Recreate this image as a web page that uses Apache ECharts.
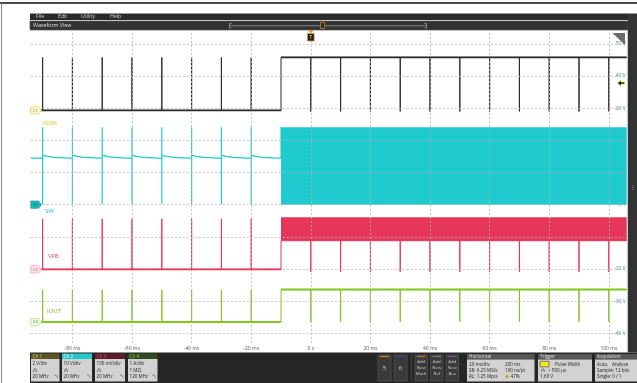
<!DOCTYPE html>
<html><head><meta charset="utf-8">
<script src="https://cdn.jsdelivr.net/npm/echarts@6/dist/echarts.min.js"></script>
<style>html,body{margin:0;padding:0;background:#fff}#c{width:637px;height:383px}</style>
</head><body><div id="c"></div>
<script>
// ---------------- data (read from the scope capture) ----------------
const timeMin = -94, timeMax = 106;                 // ms, 200 ms record, 47 % pre-trigger
const voltMin = -43, voltMax = 54;                  // V, right-hand scale, 10 V/div
const timeTicks = [-80, -60, -40, -20, 0, 20, 40, 60, 80, 100];
const voltTicks = [-40, -30, -20, -10, 0, 10, 20, 30, 40, 50];
const pulsesBefore = [-90, -80, -70, -60, -50, -40, -30, -20];
const pulsesAfter = [0, 10, 20, 30, 40, 50, 60, 70, 80, 90, 100];
const stepTime = -10;
// C1 / VDIM (black)
const c1Low = 29.3, c1High = 45.8, c1Dip = 29.0;
// C2 / SW (cyan)
const swIdle = 14.5, swPeak = 24.1, swFloor = 0.2;
const swDecay = [[0, 15.4], [1.5, 15.0], [4, 14.7], [9, 14.5]];
const swBandLow = 0, swBandHigh = 24.1;
// C3 / VFB (red)
const vfbIdle = -20.1, vfbPeak = -4.4, vfbBandLow = -11.2, vfbBandHigh = -3.9, vfbDip = -20.9;
// C4 / IOUT (green)
const ioutIdle = -36.5, ioutPeak = -26.5, ioutOn = -26.4, ioutDip = -36.4;
const trigLevel = 37.8;
const channelOffsets = [c1Low, 0, vfbIdle, ioutIdle];

// ---------------- build traces ----------------
function buildC1() {
  const d = [[timeMin, c1Low]];
  pulsesBefore.forEach(t => d.push([t, c1Low], [t, c1High], [t, c1Low]));
  d.push([stepTime, c1Low], [stepTime, c1High]);
  pulsesAfter.forEach(t => d.push([t, c1High], [t, c1Dip], [t, c1High]));
  d.push([timeMax, c1High]);
  return d;
}
function buildSW() {
  const d = [[timeMin, swIdle]];
  pulsesBefore.forEach(t => {
    d.push([t, swIdle], [t, swPeak], [t, swFloor]);
    swDecay.forEach(p => d.push([t + p[0], p[1]]));
  });
  d.push([stepTime, swIdle], [stepTime, swBandHigh]);
  return d;
}
function buildVFB() {
  const d = [[timeMin, vfbIdle]];
  pulsesBefore.forEach(t => d.push([t, vfbIdle], [t, vfbPeak], [t, vfbIdle]));
  d.push([stepTime, vfbIdle], [stepTime, vfbBandLow]);
  pulsesAfter.forEach(t => d.push([t, vfbBandLow], [t, vfbDip], [t, vfbBandLow]));
  d.push([timeMax, vfbBandLow]);
  return d;
}
function buildIOUT() {
  const d = [[timeMin, ioutIdle]];
  pulsesBefore.forEach(t => d.push([t, ioutIdle], [t, ioutPeak], [t, ioutIdle]));
  d.push([stepTime, ioutIdle], [stepTime, ioutOn]);
  pulsesAfter.forEach(t => d.push([t, ioutOn], [t, ioutDip], [t, ioutOn]));
  d.push([timeMax, ioutOn]);
  return d;
}
// heavier idle / on levels (horizontal parts only)
function levels(before, after) {
  return [[timeMin, before], [stepTime, before], [stepTime, '-'], [stepTime, after], [timeMax, after]];
}

const COL = { c1: '#2a2a2a', c2: '#1fcbcf', c3: '#e6375a', c4: '#7fc61f' };
const FONT = '"Open Sans", "Noto Sans", sans-serif';

function trace(name, data, color, w, z) {
  return { name, type: 'line', data, symbol: 'none', showSymbol: false, silent: true, connectNulls: false,
    lineStyle: { color, width: w }, z: z || 3, animation: false };
}
// switching envelope drawn as a filled band between two levels, through the axis scales
function band(name, low, high, color) {
  return {
    name, type: 'custom', silent: true, z: 3, animation: false,
    data: [[stepTime, timeMax, low, high]],
    encode: { x: [0, 1], y: [2, 3] },
    renderItem: (params, api) => {
      const p0 = api.coord([api.value(0), api.value(3)]);
      const p1 = api.coord([api.value(1), api.value(2)]);
      return { type: 'rect', shape: { x: p0[0], y: p0[1], width: p1[0] - p0[0], height: p1[1] - p0[1] },
        style: { fill: color } };
    }
  };
}

const gridSeries = {
  type: 'line', data: [[timeMin, voltMin]], symbol: 'none', lineStyle: { opacity: 0 }, silent: true, z: 1,
  markLine: {
    silent: true, symbol: ['none', 'none'], label: { show: false }, animation: false,
    lineStyle: { type: [2, 2], color: '#b5b5b5', width: 0.8 },
    data: timeTicks.map(t => ({ xAxis: t })).concat(voltTicks.map(v => ({ yAxis: v })))
  }
};

const option = {
  animation: false,
  backgroundColor: '#ffffff',
  grid: { left: 30.7, right: 10.3, top: 31, bottom: 40, containLabel: false },
  xAxis: {
    type: 'value', min: timeMin, max: timeMax,
    axisLine: { show: false }, axisTick: { show: false }, splitLine: { show: false },
    axisLabel: { customValues: timeTicks, formatter: v => v === 0 ? '0 s' : v + ' ms',
      fontSize: 5, color: '#555', margin: 3, fontFamily: FONT, showMinLabel: true, showMaxLabel: true }
  },
  yAxis: {
    type: 'value', position: 'right', min: voltMin, max: voltMax,
    axisLine: { show: false }, axisTick: { show: false }, splitLine: { show: false },
    axisLabel: { customValues: voltTicks, inside: true, formatter: v => v + ' V',
      fontSize: 5, color: '#3f8d9a', margin: 1, fontFamily: FONT }
  },
  series: [
    gridSeries,
    band('SW band', swBandLow, swBandHigh, COL.c2),
    band('VFB band', vfbBandLow, vfbBandHigh, COL.c3),
    trace('C1', buildC1(), COL.c1, 1, 4),
    trace('C1 level', levels(c1Low, c1High), COL.c1, 1.8, 5),
    trace('SW', buildSW(), COL.c2, 1.2, 4),
    trace('VFB', buildVFB(), COL.c3, 1, 4),
    trace('VFB level', [[timeMin, vfbIdle], [stepTime, vfbIdle]], COL.c3, 1.8, 5),
    trace('IOUT', buildIOUT(), COL.c4, 1, 4),
    trace('IOUT level', levels(ioutIdle, ioutOn), COL.c4, 2, 5)
  ]
};

const chart = echarts.init(document.getElementById('c'), null, { renderer: 'canvas' });
chart.setOption(option);

// ---------------- scope chrome ----------------
const G = [];
function rect(x, y, w, h, fill, stroke, z) {
  G.push({ type: 'rect', shape: { x, y, width: w, height: h }, silent: true, z: z || 10,
    style: { fill, stroke: stroke || null, lineWidth: stroke ? 0.7 : 0 } });
}
function text(x, y, s, fill, size, align, weight, z) {
  G.push({ type: 'text', x, y, silent: true, z: z || 20,
    style: { text: s, fill, font: (weight || 'normal') + ' ' + (size || 5) + 'px ' + FONT,
      textAlign: align || 'left', textVerticalAlign: 'middle', align: align || 'left', verticalAlign: 'middle' } });
}
function line(x1, y1, x2, y2, stroke, w, z) {
  G.push({ type: 'line', shape: { x1, y1, x2, y2 }, silent: true, z: z || 15, style: { stroke, lineWidth: w || 1 } });
}
function poly(points, fill, stroke, z) {
  G.push({ type: 'polygon', shape: { points }, silent: true, z: z || 15, style: { fill, stroke: stroke || null, lineWidth: 0.7 } });
}
function pline(points, stroke, w, z) {
  G.push({ type: 'polyline', shape: { points }, silent: true, z: z || 21, style: { stroke, lineWidth: w || 0.7, fill: null } });
}

// frame
line(0, 3, 637, 3, '#111', 1.6);
line(1.5, 3, 1.5, 383, '#888', 1);
// menu bar
rect(30, 13.5, 598, 6.5, '#2b2b2b');
text(36, 16.8, 'File', '#cfcfcf', 5.2);
text(58, 16.8, 'Edit', '#cfcfcf', 5.2);
text(81, 16.8, 'Utility', '#cfcfcf', 5.2);
text(110, 16.8, 'Help', '#cfcfcf', 5.2);
// waveform view bar
rect(30, 21, 598, 9, '#333333', '#555');
text(33, 25.6, 'Waveform View', '#e0e0e0', 5.3);
line(229, 25.8, 427, 25.8, '#9a9a9a', 0.8);
line(229.5, 23.5, 229.5, 28, '#9a9a9a', 0.8);
line(229.5, 23.5, 231.5, 23.5, '#9a9a9a', 0.8);
line(229.5, 28, 231.5, 28, '#9a9a9a', 0.8);
line(426.5, 23.5, 426.5, 28, '#9a9a9a', 0.8);
line(424.5, 23.5, 426.5, 23.5, '#9a9a9a', 0.8);
line(424.5, 28, 426.5, 28, '#9a9a9a', 0.8);
rect(320.6, 22.5, 4, 6, '#2a2a2a', '#d88a2a', 16);
// right strip
rect(628, 13.5, 9, 339, '#333333');
line(627.5, 30, 627.5, 352, '#bdbdbd', 0.8);
text(632.5, 187, '⋮', '#aaa', 6, 'center');
// corner icon
poly([[612.5, 33], [625, 33], [625, 45]], '#6a6a6a', null, 16);
// trigger T marker at t = 0
const x0 = chart.convertToPixel({ xAxisIndex: 0 }, 0);
poly([[x0 - 3, 30.5], [x0 + 3, 30.5], [x0, 33.3]], '#e8922a', null, 17);
rect(x0 - 3.3, 33.5, 6.6, 7.5, '#1e1e1e', '#e8922a', 17);
text(x0, 37.4, 'T', '#f0a040', 5, 'center', 'bold', 18);
// trigger level arrow on right
const yT = chart.convertToPixel({ yAxisIndex: 0 }, trigLevel);
poly([[617.5, yT], [621, yT - 2.8], [621, yT - 1], [624.5, yT - 1], [624.5, yT + 1], [621, yT + 1], [621, yT + 2.8]], '#111', '#e8d850', 17);

// channel labels
text(42, 123, 'VDIM', '#d6c726', 6);
text(45, 211.5, 'SW', '#22c0c6', 6);
text(48, 256.5, 'VFB', '#e0405e', 6);
text(47, 311, 'IOUT', '#79b82a', 6);

// channel offset tags
const tagStyles = [
  ['C1', '#fffbd2', '#e2d24a', '#666'],
  ['C2', '#1fb9c2', '#128e95', '#0d4d52'],
  ['C3', '#fde5ea', '#efa0b2', '#c23a55'],
  ['C4', '#f1fae2', '#b7df7f', '#4b7a22']
];
channelOffsets.forEach((v, i) => {
  const y = chart.convertToPixel({ yAxisIndex: 0 }, v);
  const s = tagStyles[i];
  poly([[30.8, y - 3.6], [38.5, y - 3.6], [41.5, y], [38.5, y + 3.6], [30.8, y + 3.6]], s[1], s[2], 18);
  text(35.5, y + 0.2, s[0], s[3], 4, 'center', 'normal', 19);
});

// bottom panel
rect(30, 352.5, 607, 30.5, '#262626', null, 9);
const chBoxes = [
  { x: 31, w: 28.5, hdr: '#5b5426', hc: '#e6d84a', name: 'Ch 1', l1: '2 V/div', l2: '', l3: '20 MHz' },
  { x: 62, w: 30, hdr: '#22c8cc', hc: '#ffffff', name: 'Ch 2', l1: '10 V/div', l2: '', l3: '20 MHz' },
  { x: 95, w: 30, hdr: '#5c1d2b', hc: '#e2506c', name: 'Ch 3', l1: '100 mV/div', l2: '', l3: '20 MHz' },
  { x: 128, w: 29.5, hdr: '#2f4a1f', hc: '#8fd040', name: 'Ch 4', l1: '1 A/div', l2: '1 MΩ', l3: '120 MHz' }
];
chBoxes.forEach(b => {
  rect(b.x, 353.5, b.w, 5.5, b.hdr, null, 11);
  rect(b.x, 359, b.w, 22.5, '#d2d2d2', null, 11);
  text(b.x + 1.5, 356.4, b.name, b.hc, 4.6);
  text(b.x + 1.5, 364, b.l1, '#222', 4.6);
  if (b.l2) text(b.x + 1.5, 370.3, b.l2, '#222', 4.6);
  else pline([[b.x + 2, 371.5], [b.x + 3, 371.5], [b.x + 3, 369], [b.x + 5, 369], [b.x + 5, 371.5], [b.x + 6, 371.5]], '#444', 0.6);
  text(b.x + 1.5, 376.8, b.l3, '#222', 4.6);
  pline([[b.x + b.w - 5, 375], [b.x + b.w - 3.5, 375], [b.x + b.w - 2, 377.5], [b.x + b.w - 1.5, 377.5]], '#444', 0.6);
});
// 5 / 6 buttons
[[378, '5', '#c77b2f'], [394, '6', '#3c3c95']].forEach(b => {
  rect(b[0], 355, 13, 26, '#3a3a3a', '#5a5a5a', 11);
  rect(b[0] + 2, 355.8, 9, 1.4, b[2], null, 12);
  text(b[0] + 6.5, 368.5, b[1], '#d8d8d8', 6, 'center');
});
line(411.5, 354, 411.5, 381, '#4a4a4a', 0.8);
[[415, 'Math', '#b5702a'], [430.5, 'Ref', '#7a7a7a'], [446, 'Bus', '#7b4b9c']].forEach(b => {
  rect(b[0], 355, 12.5, 26, '#3a3a3a', '#5a5a5a', 11);
  rect(b[0] + 2, 355.8, 8.5, 1.4, b[2], null, 12);
  text(b[0] + 6.25, 361.5, 'Add', '#d0d0d0', 4.3, 'center');
  text(b[0] + 6.25, 367.5, 'New', '#d0d0d0', 4.3, 'center');
  text(b[0] + 6.25, 373.5, b[1], '#d0d0d0', 4.3, 'center');
});
// Horizontal
rect(467, 354, 67.5, 5.5, '#565656', null, 11);
rect(467, 359.5, 67.5, 22, '#d2d2d2', null, 11);
text(469, 356.8, 'Horizontal', '#e2e2e2', 4.6);
text(469, 364.2, '20 ms/div', '#222', 4.6);
text(505, 364.2, '200 ms', '#222', 4.6);
text(469, 370.4, 'SR: 6.25 MS/s', '#222', 4.6);
text(505, 370.4, '160 ns/pt', '#222', 4.6);
text(469, 376.6, 'RL: 1.25 Mpts', '#222', 4.6);
poly([[507, 374.6], [508.8, 376.6], [507, 378.6], [505.2, 376.6]], '#d8901f', null, 21);
text(510.5, 376.6, '47%', '#222', 4.6);
// Trigger
rect(538, 354, 54, 5.5, '#565656', null, 11);
rect(538, 359.5, 54, 22, '#d2d2d2', null, 11);
text(540, 356.8, 'Trigger', '#e2e2e2', 4.6);
rect(540, 361.3, 9, 5.6, '#f2e41e', '#555', 21);
text(544.5, 364.2, '1', '#222', 4.6, 'center');
text(555, 364.2, 'Pulse Width', '#222', 4.6);
pline([[541, 371.5], [542, 371.5], [542, 369], [544, 369], [544, 371.5], [545, 371.5]], '#444', 0.6);
text(548, 370.4, '> 500 µs', '#222', 4.6);
text(540, 376.6, '1.68 V', '#222', 4.6);
// Acquisition
rect(595, 354, 42, 5.5, '#565656', null, 11);
rect(595, 359.5, 42, 22, '#d2d2d2', null, 11);
text(597, 356.8, 'Acquisition', '#e2e2e2', 4.6);
text(597, 364.2, 'Auto,   Analyze', '#222', 4.6);
text(597, 370.4, 'Sample: 12 bits', '#222', 4.6);
text(597, 376.6, 'Single: 0 / 1', '#222', 4.6);

chart.setOption({ graphic: G });
</script>
</body></html>
